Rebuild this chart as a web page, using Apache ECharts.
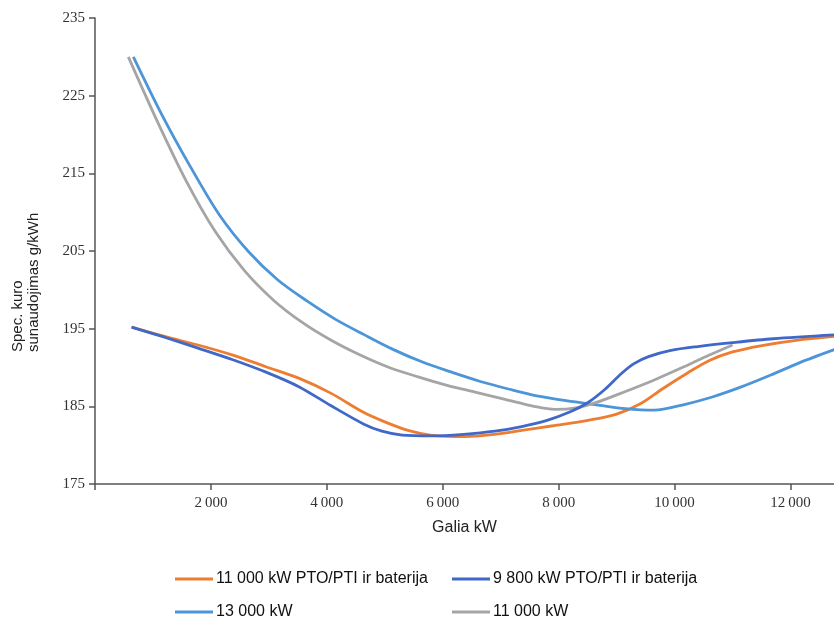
<!DOCTYPE html>
<html>
<head>
<meta charset="utf-8">
<script src="https://cdn.jsdelivr.net/npm/echarts@6/dist/echarts.min.js"></script>
<style>
html,body{margin:0;padding:0;background:#fff;}
#c{width:834px;height:622px;}
</style>
</head>
<body>
<div id="c"></div>
<script>
// Series names
const seriesNames = ['11 000 kW PTO/PTI ir baterija', '9 800 kW PTO/PTI ir baterija', '13 000 kW', '11 000 kW'];
// Tick values
const xTicks = [0, 2000, 4000, 6000, 8000, 10000, 12000];
const yTicks = [175, 185, 195, 205, 215, 225, 235];

// [power kW, specific fuel consumption g/kWh]
const orangeData = [[631,195.2],[1200,194.0],[1777,192.9],[2378,191.6],[2950,190.1],[3524,188.6],[4067,186.7],[4640,184.2],[5000,183.0],[5400,181.9],[5785,181.3],[6386,181.1],[6900,181.4],[7362,181.9],[7900,182.5],[8507,183.2],[9000,184.0],[9400,185.3],[9800,187.3],[10224,189.3],[10600,190.9],[11000,192.0],[11483,192.8],[12100,193.5],[12755,194.0]];
const darkBlueData = [[631,195.2],[1200,193.9],[1777,192.5],[2378,191.0],[2950,189.4],[3524,187.5],[4067,185.1],[4640,182.7],[4950,181.8],[5300,181.3],[5800,181.2],[6358,181.4],[6900,181.8],[7362,182.4],[7800,183.2],[8200,184.3],[8507,185.5],[8800,187.2],[9078,189.2],[9300,190.5],[9550,191.4],[9937,192.2],[10400,192.7],[11000,193.2],[11700,193.7],[12755,194.2]];
const lightBlueData = [[662,230.0],[1150,222.6],[1650,215.8],[2150,209.6],[2650,204.9],[3150,201.3],[3650,198.6],[4150,196.2],[4650,194.2],[5150,192.3],[5650,190.7],[6150,189.4],[6650,188.2],[7150,187.2],[7650,186.3],[8150,185.7],[8650,185.2],[9150,184.7],[9650,184.5],[10150,185.2],[10650,186.2],[11150,187.5],[11650,189.0],[12150,190.6],[12755,192.3]];
const greyData = [[575,230.0],[1075,221.7],[1575,214.0],[2075,207.5],[2575,202.5],[3075,198.7],[3575,195.8],[4075,193.5],[4575,191.6],[5075,190.0],[5575,188.8],[6075,187.7],[6575,186.8],[7075,185.9],[7575,185.0],[7935,184.6],[8300,184.8],[8650,185.5],[9078,186.7],[9651,188.4],[10224,190.3],[10600,191.6],[11000,192.9]];

const colors = ['#ED7D31', '#4068C8', '#4C95D9', '#A5A5A5'];
const allData = [orangeData, darkBlueData, lightBlueData, greyData];

function fmtNum(v){
  if (v === 0) return '';
  return String(v).replace(/\B(?=(\d{3})+(?!\d))/g, '\u2009');
}

const chart = echarts.init(document.getElementById('c'), null, {renderer:'canvas'});
const legendPos = [[175, 571], [452, 571], [175, 604], [452, 604]];

const option = {
  backgroundColor: '#fff',
  animation: false,
  grid: {left: 95, top: 18, right: 0, bottom: 138},
  legend: seriesNames.map((n, i) => ({
    data: [n],
    left: legendPos[i][0],
    top: legendPos[i][1],
    icon: 'rect',
    itemWidth: 38,
    itemHeight: 3,
    padding: 0,
    textStyle: {fontFamily: 'Liberation Sans, Arial, sans-serif', fontSize: 16, color: '#111', padding: [0,0,0,-2]}
  })),
  graphic: [{
    type: 'text',
    x: 10, y: 352,
    rotation: Math.PI / 2,
    style: {
      text: 'Spec. kuro\nsunaudojimas g/kWh',
      font: '15px "Liberation Sans", Arial, sans-serif',
      fill: '#222',
      align: 'left',
      verticalAlign: 'top',
      lineHeight: 16
    }
  }],
  xAxis: {
    type: 'value',
    min: 0, max: 12750,
    name: 'Galia kW',
    nameLocation: 'middle',
    nameGap: 36,
    nameTextStyle: {fontFamily: 'Liberation Sans, Arial, sans-serif', fontSize: 16, color: '#222'},
    axisLine: {show: true, onZero: false, lineStyle: {color: '#555', width: 1.5}},
    axisTick: {show: true, inside: false, length: 6, lineStyle: {color: '#555', width: 1.5}, customValues: xTicks},
    axisLabel: {customValues: xTicks, formatter: fmtNum, margin: 12, fontFamily: 'Liberation Serif, Times New Roman, serif', fontSize: 15, color: '#333'},
    splitLine: {show: false}
  },
  yAxis: {
    type: 'value',
    min: 175, max: 235,
    axisLine: {show: true, lineStyle: {color: '#555', width: 1.5}},
    axisTick: {show: true, length: 6, lineStyle: {color: '#555', width: 1.5}, customValues: yTicks},
    axisLabel: {customValues: yTicks, margin: 10, fontFamily: 'Liberation Serif, Times New Roman, serif', fontSize: 15, color: '#333'},
    splitLine: {show: false}
  },
  series: seriesNames.map((n, i) => ({
    name: n,
    type: 'line',
    data: allData[i],
    smooth: 0.3,
    showSymbol: false,
    symbol: 'none',
    clip: true,
    z: i === 1 ? 4 : 3,
    lineStyle: {color: colors[i], width: 2.8},
    itemStyle: {color: colors[i]}
  }))
};
chart.setOption(option);
</script>
</body>
</html>
